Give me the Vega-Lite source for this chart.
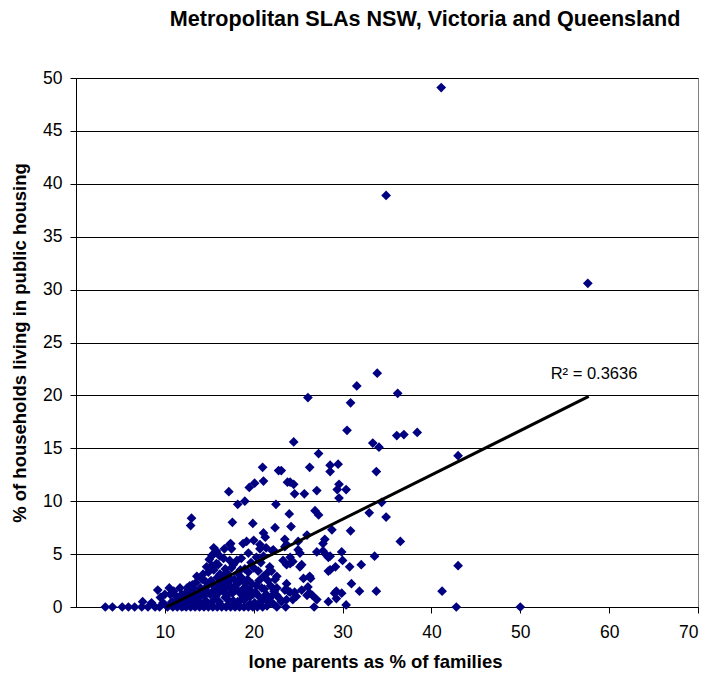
{
  "$schema": "https://vega.github.io/schema/vega-lite/v6.json",
  "autosize": {"type": "none"},
  "padding": {"left": 76, "top": 78, "right": 14, "bottom": 73},
  "width": 622,
  "height": 529,
  "background": "white",
  "config": {
    "font": "Liberation Sans",
    "view": {"stroke": "#808080", "strokeWidth": 1},
    "axis": {
      "labelFont": "Liberation Sans",
      "labelFontSize": 17.5,
      "labelColor": "black",
      "titleFont": "Liberation Sans",
      "titleFontSize": 18.5,
      "titleFontWeight": "bold",
      "titleColor": "black",
      "domainColor": "black",
      "tickColor": "black",
      "tickSize": 6
    }
  },
  "title": {
    "text": "Metropolitan SLAs NSW, Victoria and Queensland",
    "font": "Liberation Sans",
    "fontSize": 21.6,
    "fontWeight": "bold",
    "color": "black",
    "anchor": "end",
    "dx": -18,
    "offset": 38
  },
  "datasets": {
    "pts": [
      {"x": 3.3, "y": 0}, {"x": 4.1, "y": 0}, {"x": 5.2, "y": 0}, {"x": 5.9, "y": 0}, {"x": 6.6, "y": 0},
      {"x": 7.4, "y": 0}, {"x": 8.1, "y": 0}, {"x": 8.9, "y": 0}, {"x": 7.5, "y": 0.5}, {"x": 8.5, "y": 0.4},
      {"x": 9.2, "y": 1.6}, {"x": 9.5, "y": 0.9}, {"x": 9.8, "y": 0.4}, {"x": 9.4, "y": 0}, {"x": 10.0, "y": 1.2},
      {"x": 10.3, "y": 0}, {"x": 10.6, "y": 1.2}, {"x": 10.8, "y": 0.5}, {"x": 10.9, "y": 0}, {"x": 10.5, "y": 1.8}, {"x": 11.0, "y": 1.5},
      {"x": 11.4, "y": 0}, {"x": 11.7, "y": 1.8}, {"x": 11.5, "y": 0.8}, {"x": 11.9, "y": 1.2}, {"x": 11.9, "y": 0}, {"x": 11.2, "y": 0.3},
      {"x": 12.4, "y": 0}, {"x": 12.5, "y": 1.8}, {"x": 12.2, "y": 1.2}, {"x": 12.7, "y": 0.6}, {"x": 12.9, "y": 0}, {"x": 12.8, "y": 2.0}, {"x": 12.3, "y": 0.4},
      {"x": 12.9, "y": 7.7}, {"x": 13.0, "y": 8.4},
      {"x": 13.2, "y": 1.7}, {"x": 13.4, "y": 0}, {"x": 13.6, "y": 2.9}, {"x": 13.3, "y": 0.9}, {"x": 13.8, "y": 1.3}, {"x": 13.9, "y": 0}, {"x": 13.5, "y": 2.3}, {"x": 13.1, "y": 2.1}, {"x": 13.7, "y": 0.5},
      {"x": 14.0, "y": 1.8}, {"x": 14.2, "y": 2.6}, {"x": 14.4, "y": 0}, {"x": 14.5, "y": 1.1}, {"x": 14.7, "y": 3.8}, {"x": 14.9, "y": 3.3}, {"x": 14.3, "y": 3.1}, {"x": 14.8, "y": 2.0}, {"x": 14.6, "y": 0.6}, {"x": 14.9, "y": 0}, {"x": 14.2, "y": 1.4},
      {"x": 15.0, "y": 4.5}, {"x": 15.3, "y": 4.9}, {"x": 15.5, "y": 5.6}, {"x": 15.5, "y": 5.0}, {"x": 15.5, "y": 3.5}, {"x": 15.2, "y": 2.5}, {"x": 15.4, "y": 0}, {"x": 15.7, "y": 1.7}, {"x": 15.9, "y": 0}, {"x": 15.8, "y": 4.1}, {"x": 15.1, "y": 1.2}, {"x": 15.6, "y": 0.7}, {"x": 15.9, "y": 2.8}, {"x": 15.3, "y": 3.9}, {"x": 15.8, "y": 5.3},
      {"x": 16.0, "y": 4.0}, {"x": 16.2, "y": 3.1}, {"x": 16.4, "y": 0}, {"x": 16.6, "y": 3.0}, {"x": 16.7, "y": 5.5}, {"x": 16.3, "y": 1.6}, {"x": 16.5, "y": 2.2}, {"x": 16.8, "y": 0.9}, {"x": 16.9, "y": 0}, {"x": 16.1, "y": 0.5}, {"x": 16.6, "y": 4.6}, {"x": 16.9, "y": 1.9}, {"x": 16.4, "y": 2.6},
      {"x": 17.0, "y": 3.2}, {"x": 17.3, "y": 4.4}, {"x": 17.4, "y": 6.0}, {"x": 17.5, "y": 5.5}, {"x": 17.5, "y": 3.7}, {"x": 17.2, "y": 2.1}, {"x": 17.4, "y": 0}, {"x": 17.6, "y": 1.3}, {"x": 17.9, "y": 0}, {"x": 17.8, "y": 2.6}, {"x": 17.1, "y": 0.7}, {"x": 17.3, "y": 5.9}, {"x": 17.7, "y": 4.0}, {"x": 17.9, "y": 1.8}, {"x": 17.6, "y": 8.0}, {"x": 17.2, "y": 10.9},
      {"x": 18.1, "y": 4.4}, {"x": 18.5, "y": 3.5}, {"x": 18.6, "y": 4.6}, {"x": 18.2, "y": 9.7}, {"x": 18.8, "y": 6.0}, {"x": 18.4, "y": 0}, {"x": 18.3, "y": 2.3}, {"x": 18.7, "y": 1.1}, {"x": 18.9, "y": 0}, {"x": 18.0, "y": 1.6}, {"x": 18.6, "y": 2.8}, {"x": 18.2, "y": 0.5},
      {"x": 19.0, "y": 10.0}, {"x": 19.2, "y": 6.2}, {"x": 19.4, "y": 5.1}, {"x": 19.4, "y": 3.3}, {"x": 19.5, "y": 11.3}, {"x": 19.9, "y": 7.9}, {"x": 19.4, "y": 0}, {"x": 19.1, "y": 1.9}, {"x": 19.6, "y": 1.0}, {"x": 19.9, "y": 0}, {"x": 19.3, "y": 2.6}, {"x": 19.8, "y": 2.2}, {"x": 19.7, "y": 4.2},
      {"x": 20.0, "y": 6.3}, {"x": 20.0, "y": 3.7}, {"x": 20.1, "y": 11.7}, {"x": 20.3, "y": 4.7}, {"x": 20.7, "y": 5.5}, {"x": 20.7, "y": 5.9}, {"x": 20.4, "y": 0}, {"x": 20.2, "y": 1.4}, {"x": 20.6, "y": 2.5}, {"x": 20.9, "y": 0.6}, {"x": 20.5, "y": 3.4}, {"x": 20.9, "y": 1.8},
      {"x": 21.0, "y": 13.2}, {"x": 21.1, "y": 11.9}, {"x": 21.1, "y": 7.0}, {"x": 21.3, "y": 6.6}, {"x": 21.1, "y": 4.8}, {"x": 21.1, "y": 2.9}, {"x": 21.5, "y": 3.2}, {"x": 21.8, "y": 3.8}, {"x": 21.0, "y": 0}, {"x": 21.4, "y": 1.2}, {"x": 21.7, "y": 0.4}, {"x": 21.9, "y": 2.0},
      {"x": 22.1, "y": 5.3}, {"x": 22.2, "y": 5.4}, {"x": 22.4, "y": 7.5}, {"x": 22.4, "y": 2.6}, {"x": 22.5, "y": 9.7}, {"x": 22.6, "y": 1.8}, {"x": 22.6, "y": 2.9}, {"x": 22.6, "y": 1.1}, {"x": 22.6, "y": 0}, {"x": 22.8, "y": 12.9}, {"x": 22.9, "y": 0.8},
      {"x": 23.1, "y": 0.5}, {"x": 23.3, "y": 4.4}, {"x": 23.5, "y": 6.4}, {"x": 23.5, "y": 5.7}, {"x": 23.5, "y": 1.6}, {"x": 23.6, "y": 0}, {"x": 23.7, "y": 5.9}, {"x": 23.7, "y": 4.0}, {"x": 23.7, "y": 2.2}, {"x": 23.7, "y": 0.7}, {"x": 23.8, "y": 11.8}, {"x": 23.9, "y": 1.5}, {"x": 23.1, "y": 12.9},
      {"x": 10.7, "y": 0.2}, {"x": 11.3, "y": 1.0}, {"x": 11.8, "y": 0.5}, {"x": 12.1, "y": 0.1}, {"x": 12.6, "y": 1.0}, {"x": 13.0, "y": 1.4}, {"x": 13.1, "y": 0.3}, {"x": 13.6, "y": 1.0}, {"x": 14.1, "y": 0.2}, {"x": 14.0, "y": 1.0},
      {"x": 14.7, "y": 1.5}, {"x": 14.6, "y": 2.4}, {"x": 15.1, "y": 0.3}, {"x": 15.4, "y": 1.5}, {"x": 15.4, "y": 2.1}, {"x": 15.7, "y": 1.0}, {"x": 16.0, "y": 1.3}, {"x": 16.1, "y": 2.0}, {"x": 16.3, "y": 0.2}, {"x": 16.7, "y": 1.4},
      {"x": 16.8, "y": 2.4}, {"x": 17.0, "y": 1.1}, {"x": 17.1, "y": 0.2}, {"x": 17.4, "y": 1.7}, {"x": 17.4, "y": 2.6}, {"x": 17.7, "y": 0.6}, {"x": 18.0, "y": 2.1}, {"x": 18.1, "y": 0.2}, {"x": 18.4, "y": 1.4}, {"x": 18.5, "y": 0.6},
      {"x": 18.8, "y": 1.7}, {"x": 18.9, "y": 2.4}, {"x": 19.0, "y": 0.7}, {"x": 19.2, "y": 1.3}, {"x": 19.6, "y": 0.3}, {"x": 19.6, "y": 1.6}, {"x": 19.9, "y": 1.2}, {"x": 20.1, "y": 0.4}, {"x": 20.3, "y": 2.0}, {"x": 20.6, "y": 1.0},
      {"x": 20.7, "y": 0.2}, {"x": 21.2, "y": 0.8}, {"x": 21.2, "y": 1.7}, {"x": 21.5, "y": 0.1}, {"x": 21.6, "y": 2.5}, {"x": 22.0, "y": 1.0}, {"x": 22.2, "y": 0.3}, {"x": 22.3, "y": 1.5}, {"x": 18.2, "y": 3.2}, {"x": 19.0, "y": 3.6},
      {"x": 20.8, "y": 4.2}, {"x": 16.8, "y": 3.6}, {"x": 16.2, "y": 4.8}, {"x": 22.0, "y": 3.4}, {"x": 21.4, "y": 5.6},
      {"x": 24.0, "y": 8.8}, {"x": 24.1, "y": 11.8}, {"x": 24.1, "y": 4.7}, {"x": 24.1, "y": 4.1}, {"x": 24.1, "y": 1.4}, {"x": 24.2, "y": 7.6}, {"x": 24.4, "y": 4.3}, {"x": 24.4, "y": 0.7}, {"x": 24.5, "y": 15.6}, {"x": 24.5, "y": 11.6}, {"x": 24.6, "y": 10.7}, {"x": 24.6, "y": 1.4}, {"x": 24.8, "y": 1.0},
      {"x": 25.0, "y": 6.2}, {"x": 25.0, "y": 5.4}, {"x": 25.2, "y": 5.1}, {"x": 25.2, "y": 3.8}, {"x": 25.4, "y": 4.0}, {"x": 25.4, "y": 1.6}, {"x": 25.6, "y": 2.7}, {"x": 25.7, "y": 10.7}, {"x": 26.0, "y": 6.8}, {"x": 26.0, "y": 1.1},
      {"x": 26.1, "y": 19.8}, {"x": 26.1, "y": 1.9}, {"x": 26.3, "y": 13.2}, {"x": 26.3, "y": 2.9}, {"x": 26.3, "y": 1.3}, {"x": 26.4, "y": 2.7}, {"x": 26.6, "y": 1.1}, {"x": 26.8, "y": 0}, {"x": 26.9, "y": 9.1},
      {"x": 27.1, "y": 11.0}, {"x": 27.1, "y": 5.2}, {"x": 27.1, "y": 0.7}, {"x": 27.3, "y": 14.5}, {"x": 27.3, "y": 8.7}, {"x": 27.8, "y": 5.3}, {"x": 27.8, "y": 6.0}, {"x": 28.0, "y": 6.4},
      {"x": 28.2, "y": 4.9}, {"x": 28.4, "y": 4.7}, {"x": 28.4, "y": 3.4}, {"x": 28.4, "y": 0.5}, {"x": 28.6, "y": 13.4}, {"x": 28.6, "y": 12.8}, {"x": 28.6, "y": 4.8}, {"x": 28.6, "y": 3.5}, {"x": 28.8, "y": 7.3},
      {"x": 29.1, "y": 1.3}, {"x": 29.2, "y": 3.8}, {"x": 29.3, "y": 1.5}, {"x": 29.3, "y": 0.8}, {"x": 29.4, "y": 11.1}, {"x": 29.5, "y": 13.5}, {"x": 29.6, "y": 11.6}, {"x": 29.6, "y": 10.3}, {"x": 29.9, "y": 5.2}, {"x": 29.9, "y": 1.3},
      {"x": 30.0, "y": 4.4}, {"x": 30.4, "y": 11.1}, {"x": 30.4, "y": 0.2}, {"x": 30.5, "y": 16.7}, {"x": 30.8, "y": 3.8}, {"x": 30.9, "y": 19.3}, {"x": 30.9, "y": 7.2}, {"x": 31.0, "y": 2.2},
      {"x": 31.6, "y": 20.9}, {"x": 31.9, "y": 1.5}, {"x": 32.1, "y": 4.0}, {"x": 33.0, "y": 8.9}, {"x": 33.4, "y": 15.5}, {"x": 33.6, "y": 4.8}, {"x": 33.8, "y": 12.8}, {"x": 33.8, "y": 1.5}, {"x": 33.9, "y": 22.1}, {"x": 34.1, "y": 15.1}, {"x": 34.4, "y": 9.9}, {"x": 34.9, "y": 8.5}, {"x": 34.9, "y": 38.9},
      {"x": 36.1, "y": 16.2}, {"x": 36.2, "y": 20.2}, {"x": 36.5, "y": 6.2}, {"x": 36.9, "y": 16.3}, {"x": 38.4, "y": 16.5}, {"x": 41.1, "y": 49.1}, {"x": 41.2, "y": 1.5}, {"x": 42.8, "y": 0}, {"x": 43.0, "y": 14.3}, {"x": 43.0, "y": 3.9}, {"x": 50.0, "y": 0}, {"x": 57.6, "y": 30.6}
    ],
    "trend": [{"x": 10.2, "y": 0}, {"x": 57.7, "y": 19.9}],
    "label": [{"x": 58.3, "y": 22.0, "t": "R² = 0.3636"}]
  },
  "layer": [
    {
      "data": {"name": "pts"},
      "mark": {"type": "point", "shape": "diamond", "filled": true, "size": 95, "color": "#000080", "opacity": 1},
      "encoding": {
        "x": {"field": "x", "type": "quantitative", "scale": {"domain": [0, 70], "nice": false},
          "axis": {"title": "lone parents as % of families", "values": [10, 20, 30, 40, 50, 60, 70], "grid": false, "labelPadding": 10, "titlePadding": 12, "titleX": 299}},
        "y": {"field": "y", "type": "quantitative", "scale": {"domain": [0, 50], "nice": false},
          "axis": {"title": "% of households living in public housing", "values": [0, 5, 10, 15, 20, 25, 30, 35, 40, 45, 50], "grid": true, "gridColor": "black", "gridOpacity": 1, "labelPadding": 8, "titlePadding": 13}}
      }
    },
    {
      "data": {"name": "trend"},
      "mark": {"type": "line", "color": "black", "strokeWidth": 3},
      "encoding": {
        "x": {"field": "x", "type": "quantitative"},
        "y": {"field": "y", "type": "quantitative"}
      }
    },
    {
      "data": {"name": "label"},
      "mark": {"type": "text", "font": "Liberation Sans", "fontSize": 16.5, "color": "black", "align": "center", "baseline": "middle"},
      "encoding": {
        "x": {"field": "x", "type": "quantitative"},
        "y": {"field": "y", "type": "quantitative"},
        "text": {"field": "t"}
      }
    }
  ]
}
